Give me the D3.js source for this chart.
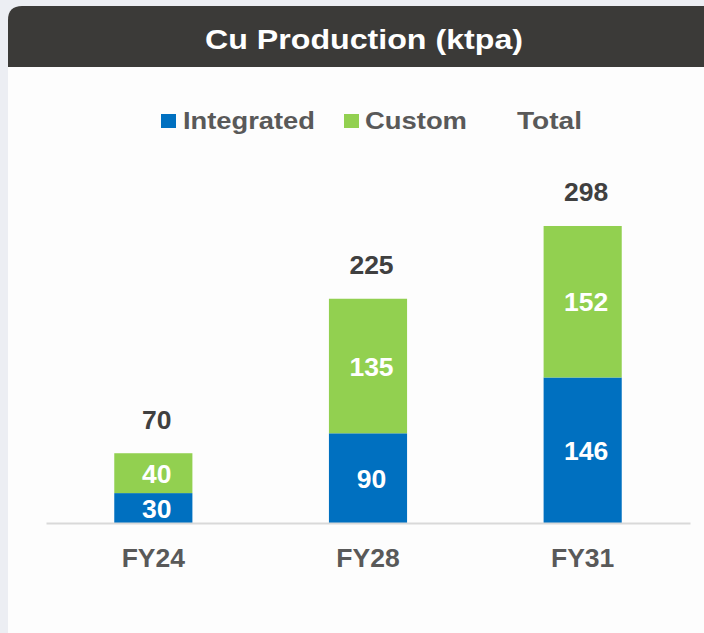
<!DOCTYPE html>
<html><head><meta charset="utf-8">
<script src="https://cdn.jsdelivr.net/npm/d3@7"></script>
<style>
html,body{margin:0;padding:0;background:#eceef3;}
svg{display:block;}
text{font-family:"Liberation Sans",Arial,sans-serif;font-weight:bold;}
</style></head>
<body>
<svg id="c" width="704" height="633"></svg>
<script>
const categories = ["FY24", "FY28", "FY31"];
const integrated = [30, 90, 146];
const custom = [40, 135, 152];
const totals = [70, 225, 298];
const seriesNames = ["Integrated", "Custom", "Total"];
const title = "Cu Production (ktpa)";

const colors = {Integrated: "#0070C0", Custom: "#92D050"};

const svg = d3.select("#c");
// panel
svg.append("path")
  .attr("d", "M8,20 Q8,6 22,6 L704,6 L704,633 L8,633 Z")
  .attr("fill", "#fdfdfd");
svg.append("path")
  .attr("d", "M8,20 Q8,6 22,6 L704,6 L704,67 L8,67 Z")
  .attr("fill", "#3b3a38");
svg.append("text").attr("x", 205).attr("y", 48.5)
  .attr("fill", "#ffffff").attr("font-size", 28)
  .attr("textLength", 318).attr("lengthAdjust", "spacingAndGlyphs")
  .text(title);

// legend
const legend = [
  {name: seriesNames[0], sx: 161, tx: 183, w: 132, color: colors.Integrated},
  {name: seriesNames[1], sx: 344, tx: 365, w: 102, color: colors.Custom},
  {name: seriesNames[2], sx: null, tx: 517, w: 65, color: null}
];
legend.forEach(l => {
  if (l.color) svg.append("rect").attr("x", l.sx).attr("y", 114).attr("width", 15).attr("height", 14).attr("fill", l.color);
  svg.append("text").attr("x", l.tx).attr("y", 129).attr("fill", "#595959")
    .attr("font-size", 23.5).attr("textLength", l.w).attr("lengthAdjust", "spacingAndGlyphs")
    .text(l.name);
});

const baseY = 523;
const x = d3.scaleBand().domain(categories).range([46, 690]).paddingInner(0.636).paddingOuter(0.318);
const y = d3.scaleLinear().domain([0, 300]).range([baseY, baseY - 299]);

const data = categories.map((c, i) => ({c, integrated: integrated[i], custom: custom[i], total: totals[i]}));
const stack = d3.stack().keys(["integrated", "custom"])(data);
const keyColor = {integrated: colors.Integrated, custom: colors.Custom};

const g = svg.append("g");
stack.forEach(s => {
  g.selectAll(null).data(s).enter().append("rect")
    .attr("x", d => x(d.data.c))
    .attr("width", x.bandwidth())
    .attr("y", d => y(d[1]))
    .attr("height", d => y(d[0]) - y(d[1]))
    .attr("fill", keyColor[s.key]);
  g.selectAll(null).data(s).enter().append("text")
    .attr("x", d => x(d.data.c) + x.bandwidth() / 2 + 3.5)
    .attr("y", d => (y(d[0]) + y(d[1])) / 2 + 9.5)
    .attr("text-anchor", "middle").attr("fill", "#ffffff").attr("font-size", 26.5)
    .text(d => d[1] - d[0]);
});
g.selectAll(null).data(data).enter().append("text")
  .attr("x", d => x(d.c) + x.bandwidth() / 2 + 3.5)
  .attr("y", d => y(d.total) - 24.5)
  .attr("text-anchor", "middle").attr("fill", "#404040").attr("font-size", 26.5)
  .text(d => d.total);

// axis
const axis = svg.append("g").attr("transform", `translate(0,${baseY})`)
  .call(d3.axisBottom(x).tickSize(0));
axis.select(".domain").attr("stroke", "#d9d9d9").attr("stroke-width", 2);
axis.selectAll("text").attr("fill", "#595959").attr("font-size", 26.5)
  .attr("y", 44).attr("dy", 0)
  .attr("font-family", "Liberation Sans, Arial, sans-serif").attr("font-weight", "bold");
</script>
</body></html>
